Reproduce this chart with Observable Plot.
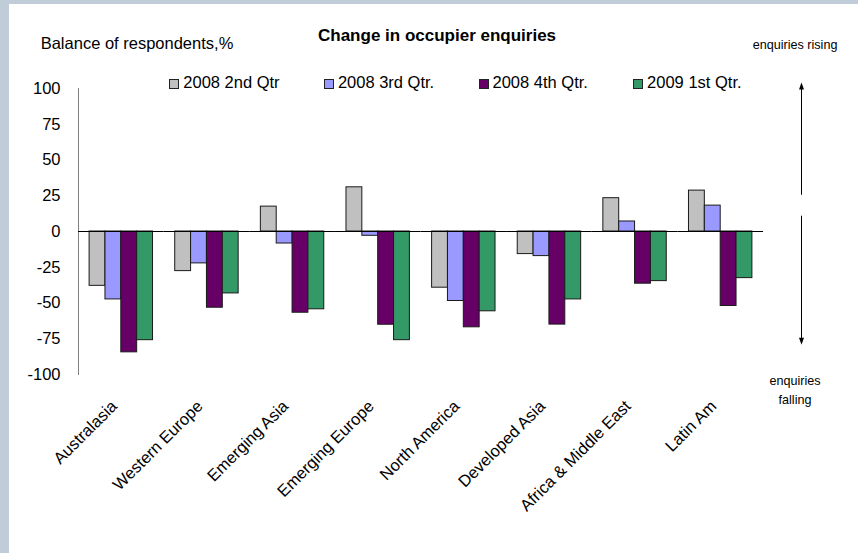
<!DOCTYPE html>
<html><head><meta charset="utf-8">
<script src="https://cdn.jsdelivr.net/npm/d3@7"></script>
<script src="https://cdn.jsdelivr.net/npm/@observablehq/plot@0.6"></script>
<style>
body{margin:0;background:#fff;}
#wrap{position:relative;width:858px;height:553px;background:#fff;overflow:hidden;font-family:"Liberation Sans",Arial,sans-serif;color:#000;}
.bt{position:absolute;left:0;top:0;width:858px;height:4px;background:#c0cdd8;}
.bl{position:absolute;left:0;top:0;width:9px;height:553px;background:#c0cdd8;}
.t{position:absolute;white-space:nowrap;line-height:1;}
.sw{position:absolute;width:8px;height:8px;border:1px solid #222;}
#chart{position:absolute;left:0;top:0;}
#over{position:absolute;left:0;top:0;}
</style></head><body>
<div id="wrap">
  <div class="bt"></div><div class="bl"></div>
  <div id="chart"></div>
  <div class="t" style="left:318px;top:26.6px;font-size:17px;font-weight:bold;">Change in occupier enquiries</div>
  <div class="t" style="left:40.7px;top:35px;font-size:16.5px;">Balance of respondents,%</div>
  <div class="t" style="left:752.7px;top:39.3px;font-size:12.6px;">enquiries rising</div>
  <div class="t" style="left:745px;top:372px;width:100px;text-align:center;font-size:12.6px;line-height:19px;">enquiries<br>falling</div>
  <div id="legend"></div>
</div>
<script>
const regions = ["Australasia","Western Europe","Emerging Asia","Emerging Europe","North America","Developed Asia","Africa & Middle East","Latin Am"];
const series = ["2008 2nd Qtr","2008 3rd Qtr.","2008 4th Qtr.","2009 1st Qtr."];
const q2_2008 = [-38, -27.7, 17.4, 30.9, -39.3, -15.8, 23.3, 28.6];
const q3_2008 = [-47.5, -22.3, -8.4, -3, -48.6, -17.2, 7, 18.1];
const q4_2008 = [-84.5, -53.3, -56.8, -65.2, -67, -65.1, -36.5, -52.1];
const q1_2009 = [-76, -43.3, -54.4, -76, -55.8, -47.5, -34.7, -32.6];
const colors = ["#C0C0C0","#9999FF","#660066","#339966"];
const yTicks = [-100,-75,-50,-25,0,25,50,75,100];
// annotation arrows (value ranges on the y scale: tail, tip)
const arrowUp = [25.3, 103.8];
const arrowDown = [10.7, -79.5];

const seriesValues = [q2_2008, q3_2008, q4_2008, q1_2009];
const data = [];
regions.forEach((r, i) => series.forEach((s, j) => data.push({region: r, series: s, value: seriesValues[j][i]})));

const font = '"Liberation Sans", Arial, sans-serif';
const chart = Plot.plot({
  width: 858, height: 553,
  marginLeft: 78, marginRight: 95, marginTop: 88, marginBottom: 179,
  style: {fontFamily: font, fontSize: "16.5px", color: "#000", background: "transparent", overflow: "visible"},
  fx: {domain: regions, padding: 0, axis: null, round: false},
  x: {domain: series, paddingInner: 0, paddingOuter: 0.7, axis: null, round: false},
  y: {domain: [-100, 100], axis: null},
  color: {domain: series, range: colors},
  marks: [
    Plot.frame({anchor: "left", facetAnchor: "left", stroke: "#808080"}),
    Plot.axisY(yTicks, {tickSize: 0, tickPadding: 18, tickFormat: d => String(d), fontSize: 16.5, label: null}),
    Plot.barY(data, {fx: "region", x: "series", y: "value", fill: "series", stroke: "#1a1a1a", strokeWidth: 1}),
    Plot.ruleY([0], {stroke: "#000"}),
    Plot.text(regions, {fx: d => d, text: d => d, frameAnchor: "bottom", rotate: -45, textAnchor: "end", lineAnchor: "middle", dx: -7, dy: 29, fontSize: 16.5})
  ]
});
document.getElementById("chart").appendChild(chart);

// legend
const leg = document.getElementById("legend");
series.forEach((s, i) => {
  const x0 = 169.3 + i * 154.6;
  const sw = document.createElement("div");
  sw.className = "sw"; sw.style.left = x0 + "px"; sw.style.top = "79px"; sw.style.background = colors[i];
  leg.appendChild(sw);
  const t = document.createElement("div");
  t.className = "t"; t.style.left = (x0 + 14) + "px"; t.style.top = "74.3px"; t.style.fontSize = "16.5px";
  t.textContent = s;
  leg.appendChild(t);
});

// arrows drawn with the chart's y scale
const ys = chart.scale("y");
const ax = 801.5;
const svg = d3.select("#wrap").append("svg").attr("id", "over").attr("width", 858).attr("height", 553);
[arrowUp, arrowDown].forEach(([tail, tip]) => {
  const y0 = ys.apply(tail), y1 = ys.apply(tip);
  const dir = Math.sign(y1 - y0);
  svg.append("line").attr("x1", ax).attr("x2", ax).attr("y1", y0).attr("y2", y1 - dir * 3).attr("stroke", "#000").attr("stroke-width", 1);
  svg.append("path").attr("d", `M${ax},${y1} L${ax - 2.5},${y1 - dir * 7} L${ax + 2.5},${y1 - dir * 7} Z`).attr("fill", "#000");
});
</script>
</body></html>
